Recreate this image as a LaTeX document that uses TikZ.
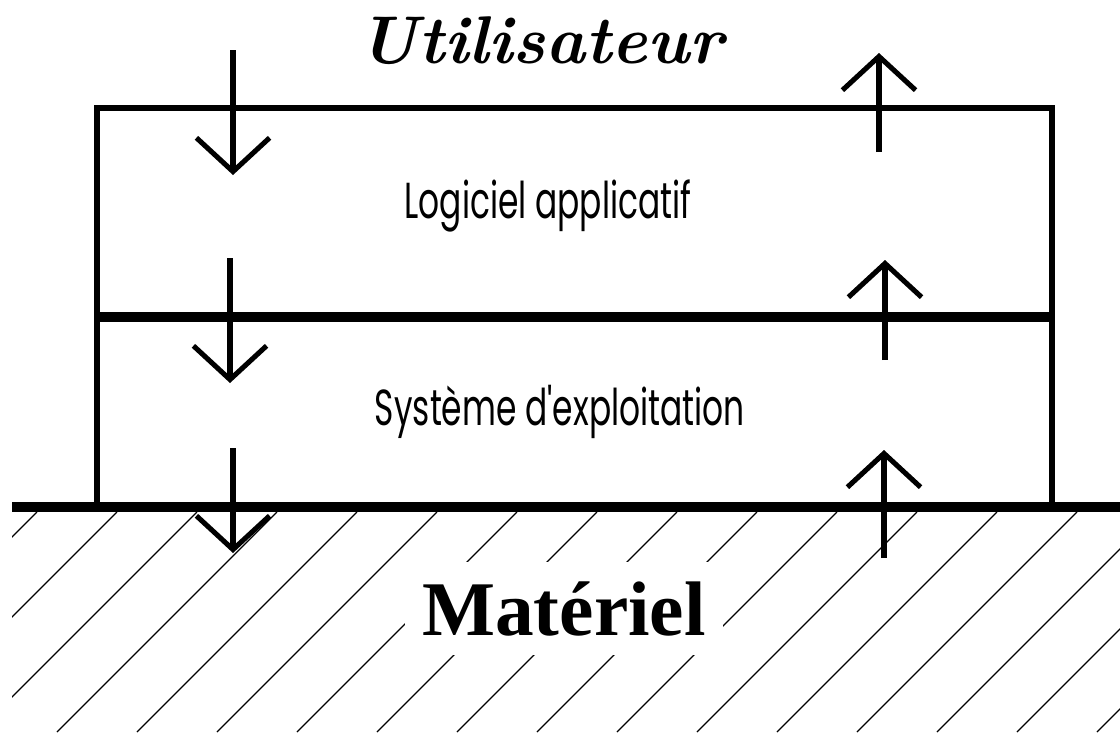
\documentclass[tikz,border=0pt]{standalone}
\usepackage{fontspec}
\usetikzlibrary{arrows.meta}
\newfontfamily\layerfont[FakeStretch=0.65]{Poppins}
\newfontfamily\hwfont{Liberation Serif}

\begin{document}
\begin{tikzpicture}[
        x=0.025cm, y=-0.025cm,
        layer/.style={draw=black, line width=4.5pt},
        sepline/.style={draw=black, line width=6.5pt},
        hatch/.style={draw=black, line width=0.8pt},
        flow/.style={line width=3.6pt, -{Straight Barb[length=24pt, width=52pt]}},
        lbl/.style={inner sep=0pt, anchor=base, font=\layerfont\fontsize{36}{40}\selectfont}
    ]
        \useasboundingbox (0,0) rectangle (1120,732);

        % hardware ground
        \begin{scope}
            \clip (12,512) rectangle (1120,732);
            \foreach \hc in {549,629,...,1829}
                \draw[hatch] (\hc-512,512) -- (\hc-732,732);
        \end{scope}
        \node[fill=white, inner xsep=12pt, inner ysep=14pt, anchor=base] (hw) at (564,635)
            {\hwfont\bfseries\fontsize{55}{60}\selectfont Matériel};

        % layers
        \draw[layer] (97,108) rectangle (1052,507);
        \draw[sepline] (97,317) -- (1052,317);
        \draw[sepline] (12,507) -- (1120,507);

        \node[inner sep=0pt, anchor=base, font=\bfseries\itshape\fontsize{48}{52}\selectfont] (user) at (541,63) {Utilisateur};
        \node[lbl] (app) at (548,218) {Logiciel applicatif};
        \node[lbl] (os) at (560,425) {Système d'exploitation};

        % requests going down
        \coordinate (d1s) at (233,50);  \coordinate (d1e) at (233,175);
        \coordinate (d2s) at (230,258); \coordinate (d2e) at (230,383);
        \coordinate (d3s) at (233,448); \coordinate (d3e) at (233,553);
        % answers going up
        \coordinate (u1s) at (879,152); \coordinate (u1e) at (879,53);
        \coordinate (u2s) at (885,360); \coordinate (u2e) at (885,260);
        \coordinate (u3s) at (884,558); \coordinate (u3e) at (884,450);

        \draw[flow] (d1s) -- (d1e);
        \draw[flow] (d2s) -- (d2e);
        \draw[flow] (d3s) -- (d3e);
        \draw[flow] (u1s) -- (u1e);
        \draw[flow] (u2s) -- (u2e);
        \draw[flow] (u3s) -- (u3e);
    \end{tikzpicture}
\end{document}
